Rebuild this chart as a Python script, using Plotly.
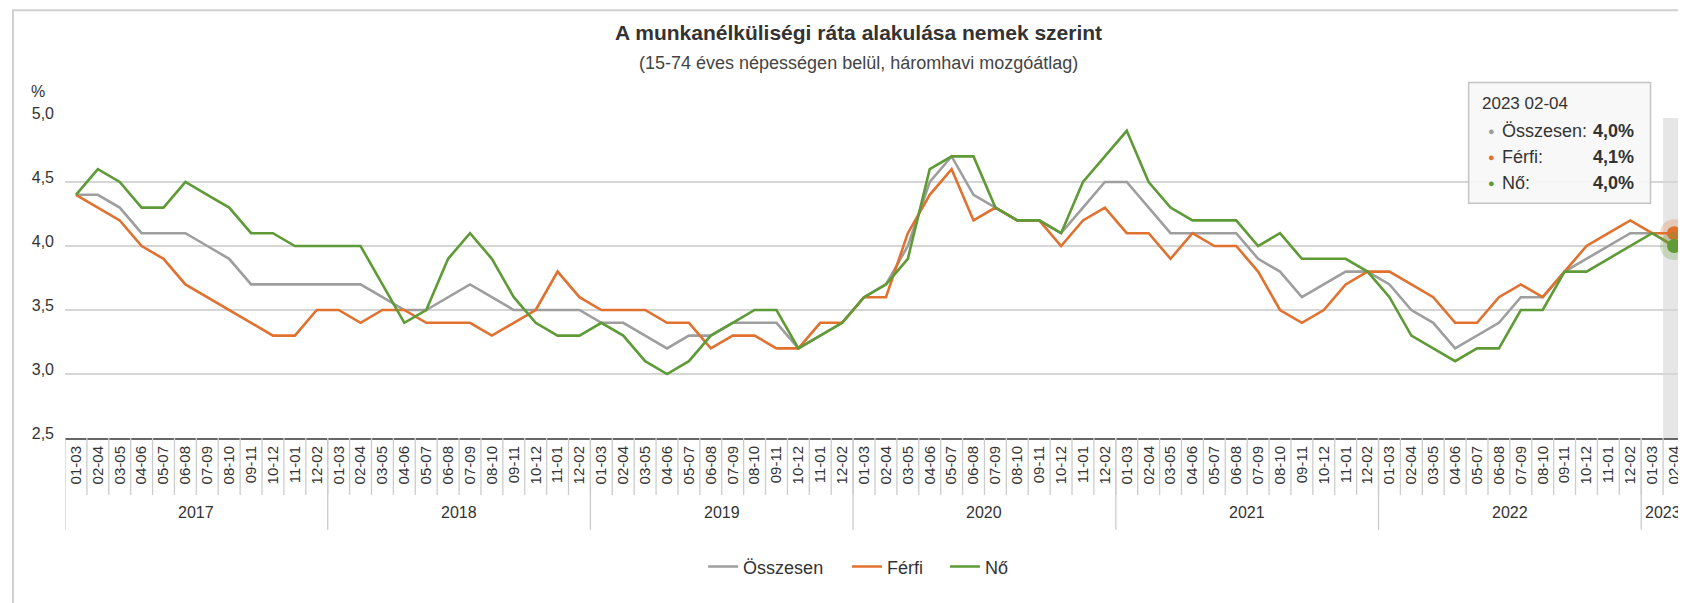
import plotly.graph_objects as go

# ---- data ----
months = ["01-03", "02-04", "03-05", "04-06", "05-07", "06-08",
          "07-09", "08-10", "09-11", "10-12", "11-01", "12-02"]
years = ["2017", "2018", "2019", "2020", "2021", "2022", "2023"]
months_per_year = [12, 12, 12, 12, 12, 12, 2]

osszesen = [4.4, 4.4, 4.3, 4.1, 4.1, 4.1, 4.0, 3.9, 3.7, 3.7, 3.7, 3.7,
            3.7, 3.7, 3.6, 3.5, 3.5, 3.6, 3.7, 3.6, 3.5, 3.5, 3.5, 3.5,
            3.4, 3.4, 3.3, 3.2, 3.3, 3.3, 3.4, 3.4, 3.4, 3.2, 3.3, 3.4,
            3.6, 3.7, 4.0, 4.5, 4.7, 4.4, 4.3, 4.2, 4.2, 4.1, 4.3, 4.5,
            4.5, 4.3, 4.1, 4.1, 4.1, 4.1, 3.9, 3.8, 3.6, 3.7, 3.8, 3.8,
            3.7, 3.5, 3.4, 3.2, 3.3, 3.4, 3.6, 3.6, 3.8, 3.9, 4.0, 4.1,
            4.1, 4.0]
ferfi = [4.4, 4.3, 4.2, 4.0, 3.9, 3.7, 3.6, 3.5, 3.4, 3.3, 3.3, 3.5,
         3.5, 3.4, 3.5, 3.5, 3.4, 3.4, 3.4, 3.3, 3.4, 3.5, 3.8, 3.6,
         3.5, 3.5, 3.5, 3.4, 3.4, 3.2, 3.3, 3.3, 3.2, 3.2, 3.4, 3.4,
         3.6, 3.6, 4.1, 4.4, 4.6, 4.2, 4.3, 4.2, 4.2, 4.0, 4.2, 4.3,
         4.1, 4.1, 3.9, 4.1, 4.0, 4.0, 3.8, 3.5, 3.4, 3.5, 3.7, 3.8,
         3.8, 3.7, 3.6, 3.4, 3.4, 3.6, 3.7, 3.6, 3.8, 4.0, 4.1, 4.2,
         4.1, 4.1]
no = [4.4, 4.6, 4.5, 4.3, 4.3, 4.5, 4.4, 4.3, 4.1, 4.1, 4.0, 4.0,
      4.0, 4.0, 3.7, 3.4, 3.5, 3.9, 4.1, 3.9, 3.6, 3.4, 3.3, 3.3,
      3.4, 3.3, 3.1, 3.0, 3.1, 3.3, 3.4, 3.5, 3.5, 3.2, 3.3, 3.4,
      3.6, 3.7, 3.9, 4.6, 4.7, 4.7, 4.3, 4.2, 4.2, 4.1, 4.5, 4.7,
      4.9, 4.5, 4.3, 4.2, 4.2, 4.2, 4.0, 4.1, 3.9, 3.9, 3.9, 3.8,
      3.6, 3.3, 3.2, 3.1, 3.2, 3.2, 3.5, 3.5, 3.8, 3.8, 3.9, 4.0,
      4.1, 4.0]

series_names = ["Összesen", "Férfi", "Nő"]
colors = ["#9e9e9e", "#e0712f", "#5e9b36"]

# ---- derived categories ----
tick_text = []
for y, n in zip(years, months_per_year):
    for m in months[:n]:
        tick_text.append(m)
idx = list(range(len(tick_text)))
N = len(idx)

# ---- layout geometry (pixels, in the 1686x603 window; page body has 8px margin) ----
OFF = 8
W, H = 1686 - OFF, 603 - OFF
PLOT_L, PLOT_R, PLOT_T, PLOT_B = 64.5, 1685.5, 117.5, 438.0   # window px
ML = PLOT_L - OFF
MR = W - (PLOT_R - OFF)
MT = PLOT_T - OFF
MB = H - (PLOT_B - OFF)
PW, PH = PLOT_R - PLOT_L, PLOT_B - PLOT_T


def xp(px):  # window px -> paper x
    return (px - PLOT_L) / PW


def yp(py):  # window px -> paper y
    return (PLOT_B - py) / PH


FONT = "Liberation Sans, Arial, sans-serif"
TXT = "#333333"

fig = go.Figure()

legend_ids = ["legend", "legend2", "legend3"]
for name, vals, col, lg in zip(series_names, [osszesen, ferfi, no], colors, legend_ids):
    fig.add_trace(go.Scatter(
        x=idx, y=vals, name=name, mode="lines", legend=lg,
        line=dict(color=col, width=2.6),
        hoverinfo="skip",
    ))

# hover markers (last point)
for vals, col in zip([ferfi, no], colors[1:]):
    fig.add_trace(go.Scatter(
        x=[idx[-1]], y=[vals[-1]], mode="markers", showlegend=False, cliponaxis=False,
        marker=dict(size=28, color=col, opacity=0.25), hoverinfo="skip"))
    fig.add_trace(go.Scatter(
        x=[idx[-1]], y=[vals[-1]], mode="markers", showlegend=False, cliponaxis=False,
        marker=dict(size=14, color=col), hoverinfo="skip"))

shapes = []
# hover band
shapes.append(dict(type="rect", xref="x", yref="paper",
                   x0=idx[-1] - 0.5, x1=idx[-1] + 0.5, y0=0, y1=1,
                   fillcolor="#e6e6e6", line=dict(width=0), layer="below"))
# inner category separators
for i in idx[1:]:
    shapes.append(dict(type="line", xref="x", yref="paper",
                       x0=i - 0.5, x1=i - 0.5, y0=0, y1=yp(495),
                       line=dict(color="#cccccc", width=1.3)))
# year separators
start = 0
bounds = [0]
for n in months_per_year:
    start += n
    bounds.append(start)
for b in bounds:
    shapes.append(dict(type="line", xref="x", yref="paper",
                       x0=b - 0.5, x1=b - 0.5, y0=0, y1=yp(530),
                       line=dict(color="#cccccc", width=1.3)))
# outer border
shapes.append(dict(type="rect", xref="paper", yref="paper",
                   x0=xp(12.5), x1=xp(1720), y0=yp(640), y1=yp(9.5),
                   line=dict(color="#d0d0d0", width=2), fillcolor="rgba(0,0,0,0)"))
# tooltip box
shapes.append(dict(type="rect", xref="paper", yref="paper",
                   x0=xp(1469), x1=xp(1651), y0=yp(203), y1=yp(82),
                   line=dict(color="#c4c4c4", width=1.5),
                   fillcolor="rgba(247,247,247,0.92)", layer="above"))

annotations = []
# year labels
for y, b0, b1 in zip(years, bounds[:-1], bounds[1:]):
    annotations.append(dict(x=(b0 + b1 - 1) / 2, y=yp(513), xref="x", yref="paper",
                            text=y, showarrow=False, yanchor="middle",
                            font=dict(size=16, color=TXT, family=FONT)))
# % label
annotations.append(dict(x=xp(28), y=yp(91), xref="paper", yref="paper", text="%",
                        showarrow=False, xanchor="left", yanchor="middle",
                        font=dict(size=16, color=TXT, family=FONT)))
# title
annotations.append(dict(x=xp(858), y=yp(32), xref="paper", yref="paper",
                        text="<b>A munkanélküliségi ráta alakulása nemek szerint</b>",
                        showarrow=False, yanchor="middle",
                        font=dict(size=21, color="#333333", family=FONT)))
# subtitle
annotations.append(dict(x=xp(858), y=yp(62), xref="paper", yref="paper",
                        text="(15-74 éves népességen belül, háromhavi mozgóátlag)",
                        showarrow=False, yanchor="middle",
                        font=dict(size=18, color="#444444", family=FONT)))
# tooltip content
annotations.append(dict(x=xp(1480), y=yp(103), xref="paper", yref="paper",
                        text=f"{years[-1]} {tick_text[-1]}", showarrow=False,
                        xanchor="left", yanchor="middle",
                        font=dict(size=17, color=TXT, family=FONT)))
row_y = [131, 157, 183]
for name, vals, col, ry in zip(series_names, [osszesen, ferfi, no], colors, row_y):
    annotations.append(dict(x=xp(1486), y=yp(ry), xref="paper", yref="paper",
                            text="●", showarrow=False,
                            xanchor="left", yanchor="middle",
                            font=dict(size=11, color=col, family=FONT)))
    annotations.append(dict(x=xp(1500), y=yp(ry), xref="paper", yref="paper",
                            text=f"{name}:", showarrow=False,
                            xanchor="left", yanchor="middle",
                            font=dict(size=18, color=TXT, family=FONT)))
    annotations.append(dict(x=xp(1636), y=yp(ry), xref="paper", yref="paper",
                            text=f"<b>{vals[-1]:.1f}%</b>".replace(".", ","), showarrow=False,
                            xanchor="right", yanchor="middle",
                            font=dict(size=18, color=TXT, family=FONT)))

legend_x_px = [703, 847, 945]
legends = {}
for lg, lx in zip(legend_ids, legend_x_px):
    legends[lg] = dict(orientation="h", x=xp(lx), xanchor="left", y=yp(567), yanchor="middle",
                       font=dict(size=18, color=TXT, family=FONT), itemwidth=30,
                       bgcolor="rgba(0,0,0,0)", borderwidth=0)

fig.update_layout(
    width=W, height=H,
    margin=dict(l=ML, r=MR, t=MT, b=MB, pad=0),
    paper_bgcolor="white", plot_bgcolor="white",
    separators=", ",
    font=dict(family=FONT, color=TXT),
    showlegend=True,
    xaxis=dict(range=[-0.5, N - 0.5], tickmode="array", tickvals=idx, ticktext=tick_text,
               tickangle=-90, ticks="", showgrid=False, zeroline=False,
               showline=True, linecolor="#666666", linewidth=2,
               tickfont=dict(size=15, color=TXT, family=FONT)),
    yaxis=dict(range=[2.5, 5.0], dtick=0.5, tickformat=".1f", ticks="",
               showgrid=True, gridcolor="#d6d6d6", gridwidth=1.5, zeroline=False,
               showline=False, ticklabelstandoff=10, ticklabelshift=-5,
               tickfont=dict(size=16, color=TXT, family=FONT)),
    shapes=shapes,
    annotations=annotations,
    hovermode=False,
    **legends,
)

fig.write_html("out.html")
